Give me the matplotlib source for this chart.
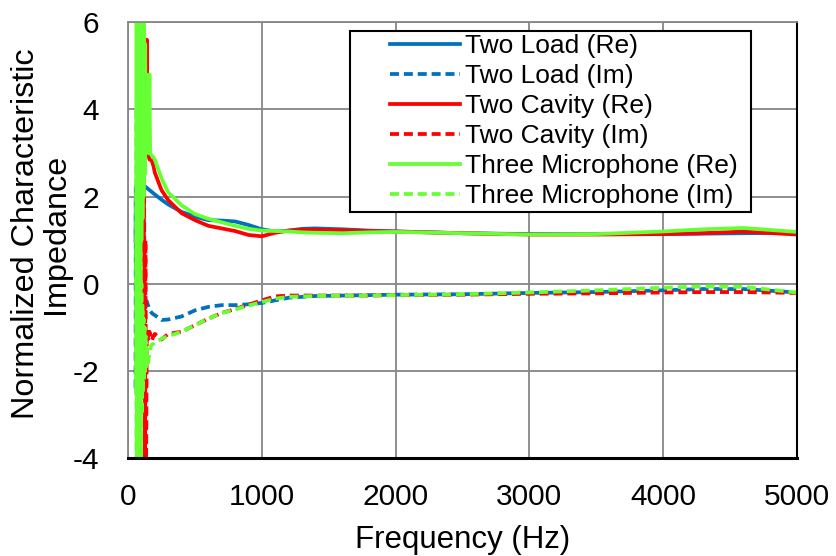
import matplotlib
matplotlib.use("Agg")
import matplotlib.pyplot as plt
from matplotlib.patches import Rectangle

plt.rcParams['font.family'] = ['Liberation Sans', 'DejaVu Sans']
plt.rcParams['axes.unicode_minus'] = False

# common frequency grid (Hz) for the smooth part
freq = [200, 250, 300, 400, 500, 600, 700, 800, 900, 1000, 1100, 1200, 1300,
        1400, 1600, 1800, 2000, 2500, 3000, 3500, 4000, 4300, 4600, 5000]

load_re = [2.05, 1.93, 1.82, 1.65, 1.54, 1.46, 1.45, 1.43, 1.35, 1.25, 1.20, 1.22,
           1.26, 1.27, 1.25, 1.22, 1.20, 1.16, 1.14, 1.14, 1.14, 1.15, 1.16, 1.17]
load_im = [-0.72, -0.83, -0.82, -0.75, -0.61, -0.53, -0.49, -0.49, -0.47, -0.44, -0.38, -0.32,
           -0.30, -0.28, -0.27, -0.26, -0.25, -0.24, -0.21, -0.19, -0.15, -0.12, -0.12, -0.20]
cav_re = [2.55, 2.15, 1.92, 1.62, 1.46, 1.33, 1.27, 1.21, 1.12, 1.09, 1.17, 1.22,
          1.24, 1.24, 1.23, 1.21, 1.20, 1.16, 1.13, 1.13, 1.14, 1.16, 1.20, 1.13]
cav_im = [-1.15, -1.28, -1.15, -1.10, -0.95, -0.80, -0.67, -0.58, -0.48, -0.38, -0.29, -0.27,
          -0.27, -0.27, -0.27, -0.27, -0.26, -0.25, -0.23, -0.22, -0.20, -0.19, -0.19, -0.21]
mic_re = [2.85, 2.42, 2.10, 1.80, 1.60, 1.49, 1.41, 1.33, 1.26, 1.22, 1.21, 1.20,
          1.18, 1.17, 1.16, 1.18, 1.19, 1.16, 1.13, 1.14, 1.20, 1.25, 1.28, 1.19]
mic_im = [-1.35, -1.26, -1.20, -1.10, -0.95, -0.80, -0.67, -0.59, -0.50, -0.42, -0.34, -0.30,
          -0.29, -0.28, -0.27, -0.27, -0.26, -0.24, -0.20, -0.15, -0.09, -0.06, -0.07, -0.20]

# noisy low frequency part of each method
load_low_f = [56, 58, 60, 62, 65, 70, 80, 100, 120, 140, 160, 180]
load_re_low = [1.0, 2.0, 0.2, 2.2, 1.3, 2.2, 2.4, 2.35, 2.25, 2.2, 2.15, 2.1]
load_im_low = [-2.4, 2.3, -2.0, 0.5, -1.0, -0.3, -0.35, -0.4, -0.5, -0.4, -0.6, -0.68]

cav_low_f = [115, 120, 125, 130, 135, 140, 145, 150, 160, 177, 190]
cav_re_low = [2.0, 3.0, 3.6, 3.8, 4.5, 5.6, 4.2, 3.0, 2.85, 2.83, 2.7]
cav_im_low = [-1.5, 2.5, -4.2, 1.0, -4.2, -1.3, -1.1, -1.3, -1.1, -1.3, -1.2]

mic_low_f = [60, 64, 68, 72, 76, 80, 84, 88, 92, 96, 100, 104, 108, 112, 116, 120,
             124, 128, 132, 136, 140, 145, 150, 160, 165, 175, 190]
mic_re_low = [-2.5, 6.5, -4.2, 6.5, -1.5, 6.5, -3.0, 6.5, 0.0, 6.5, 1.0, 6.5, 1.5, 6.5, 2.0, 6.0,
              2.5, 5.5, 3.0, 4.8, 3.2, 4.0, 3.0, 4.8, 3.0, 2.95, 2.9]
mic_im_low = [4.0, -4.2, 3.0, -4.2, 2.0, -4.2, 1.0, -4.2, 0.5, -4.2, 0.0, -3.0, -0.5, -2.5, -0.8, -2.2,
              -1.0, -2.0, -1.2, -1.9, -1.5, -1.9, -1.8, -1.6, -1.5, -1.4, -1.38]

blu = '#0070C0'
red = '#FF0000'
grn = '#66FF33'
dash = (0, (2.4, 1.3))

fig = plt.figure(figsize=(8.37, 5.56), dpi=100)
ax = fig.add_axes([0.153, 0.176, 0.799, 0.784])

lw = 2.7
ax.plot(load_low_f + freq, load_re_low + load_re, color=blu, lw=lw, label='Two Load (Re)')
ax.plot(load_low_f + freq, load_im_low + load_im, color=blu, lw=lw, ls=dash, label='Two Load (Im)')
ax.plot(cav_low_f + freq, cav_re_low + cav_re, color=red, lw=lw, label='Two Cavity (Re)')
ax.plot(cav_low_f + freq, cav_im_low + cav_im, color=red, lw=lw, ls=dash, label='Two Cavity (Im)')
ax.plot(mic_low_f + freq, mic_re_low + mic_re, color=grn, lw=lw, label='Three Microphone (Re)')
ax.plot(mic_low_f + freq, mic_im_low + mic_im, color=grn, lw=lw, ls=dash, label='Three Microphone (Im)')

ax.set_xlim(0, 5000)
ax.set_ylim(-4, 6)
ax.set_xticks(range(0, 5001, 1000))
ax.set_yticks(range(-4, 7, 2))
ax.grid(True, color='#868686', lw=1.3)
ax.set_axisbelow(True)
ax.tick_params(length=0, labelsize=21.5)
ax.tick_params(axis='x', pad=18)
ax.tick_params(axis='y', pad=21)

for s in ['left', 'top']:
    ax.spines[s].set_color('#868686')
    ax.spines[s].set_linewidth(1.3)
ax.spines['bottom'].set_color('black')
ax.spines['bottom'].set_linewidth(2.2)
ax.spines['right'].set_color('black')
ax.spines['right'].set_linewidth(1.5)

ax.set_xlabel('Frequency (Hz)', fontsize=22.5, labelpad=10)
ax.set_ylabel('Normalized Characteristic\nImpedance', fontsize=23.3, labelpad=1, linespacing=1.0)
ax.yaxis.label.set_y(0.515)

# legend box
ax.add_patch(Rectangle((0.3318, 0.5642), 0.5992, 0.4152, transform=ax.transAxes,
                       facecolor='white', edgecolor='black', lw=1.5, zorder=5))
leg = ax.legend(loc='upper left', bbox_to_anchor=(0.3916, 0.9736), fontsize=19,
                frameon=False, handlelength=2.65, handletextpad=0.2, labelspacing=0.23,
                borderaxespad=0, borderpad=0)
leg.set_zorder(6)

fig.savefig('out.png', dpi=100)
